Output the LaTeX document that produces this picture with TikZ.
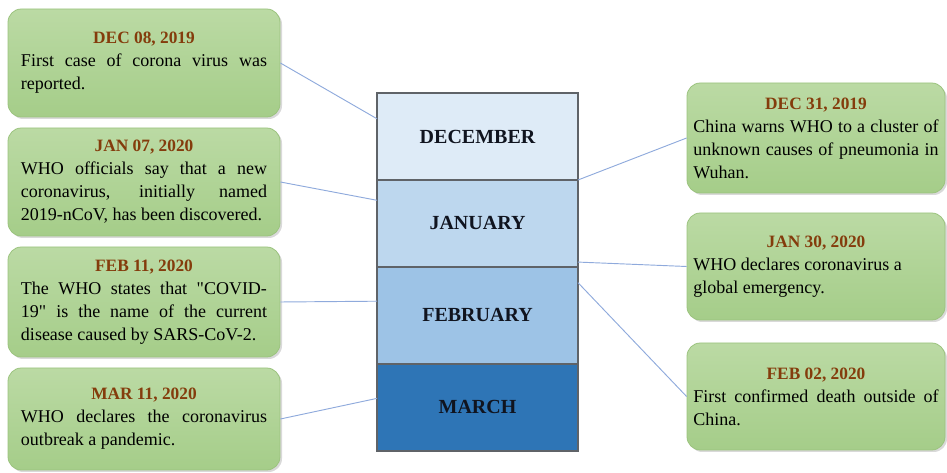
\documentclass[tikz,border=0pt]{standalone}
\usepackage{fontspec}
\setmainfont{Liberation Serif}[Ligatures=TeXOff]
\usetikzlibrary{positioning,shadows}
\definecolor{datecol}{HTML}{843C0C}
\definecolor{boxtop}{HTML}{BBDAA4}
\definecolor{boxbottom}{HTML}{A5CD89}
\definecolor{boxline}{HTML}{9BC37E}
\definecolor{decfill}{HTML}{DEEBF7}
\definecolor{janfill}{HTML}{BDD7EE}
\definecolor{febfill}{HTML}{9DC3E6}
\definecolor{marfill}{HTML}{2E75B6}
\definecolor{monthline}{HTML}{5F6368}
\definecolor{monthtext}{HTML}{10141F}
\definecolor{linkcol}{HTML}{8FAADC}
\hyphenpenalty=10000
\newcommand{\eventlabel}[2]{{\centering\color{datecol}\bfseries\fontsize{13}{17}\selectfont #1\par}#2}

\begin{document}
\begin{tikzpicture}[x = 0.75pt, y = -0.75pt,
  event/.style = {rectangle, rounded corners = 10pt, draw = boxline, line width = 0.6pt, top color = boxtop, bottom color = boxbottom, drop shadow = {opacity = 0.3, shadow xshift = 1.5pt, shadow yshift = -1.5pt}, text width = 184.5pt, align = justify, inner sep = 0pt, font = \fontsize{13.5}{17.25}\selectfont},
  leftevent/.style = {event, minimum width = 204pt},
  rightevent/.style = {event, minimum width = 193.5pt, text width = 184pt},
  month/.style = {rectangle, draw = monthline, line width = 1.3pt, minimum width = 150.75pt, minimum height = 65.25pt, inner sep = 0pt, outer sep = 0pt, text = monthtext, font = \fontsize{15}{18}\selectfont\bfseries},
  link/.style = {draw = linkcol, line width = 0.7pt}]
	\useasboundingbox (0, 0) rectangle (947, 473);

	\node[leftevent, minimum height = 81pt] (ev1) at (144, 63) {\eventlabel{DEC 08, 2019}{First case of corona virus was\linebreak reported.}};
	\node[leftevent, minimum height = 81pt] (ev2) at (144, 182) {\eventlabel{JAN 07, 2020}{WHO officials say that a new\linebreak coronavirus, initially named\linebreak 2019-nCoV, has been discovered.}};
	\node[leftevent, minimum height = 82.5pt] (ev3) at (144, 302) {\eventlabel{FEB 11, 2020}{The WHO states that "COVID-\linebreak 19" is the name of the current\linebreak disease caused by SARS-CoV-2.}};
	\node[leftevent, minimum height = 76.5pt] (ev4) at (144, 419) {\eventlabel{MAR 11, 2020}{WHO declares the coronavirus\linebreak outbreak a pandemic.}};

	\node[rightevent, minimum height = 82.5pt] (ev5) at (816, 138) {\eventlabel{DEC 31, 2019}{China warns WHO to a cluster of\linebreak unknown causes of pneumonia in\linebreak Wuhan.}};
	\node[rightevent, minimum height = 80.25pt] (ev6) at (816, 266.5) {\eventlabel{JAN 30, 2020}{WHO declares coronavirus a\newline global emergency.}};
	\node[rightevent, minimum height = 80.25pt] (ev7) at (816, 396.5) {\eventlabel{FEB 02, 2020}{First confirmed death outside of\linebreak China.}};

	\node[month, fill = decfill] (dec) at (477.5, 136.5) {DECEMBER};
	\node[month, fill = janfill, below = 0pt of dec] (jan) {JANUARY};
	\node[month, fill = febfill, below = 0pt of jan, minimum height = 72.5pt] (feb) {FEBRUARY};
	\node[month, fill = marfill, below = 0pt of feb] (mar) {MARCH};

	\foreach \from/\to in {ev1.east/dec.170, ev2.east/jan.167, ev3.east/feb.172, ev4.east/mar.175, dec.south east/ev5.west, jan.-21/ev6.west, feb.18/ev7.west}
		\draw[link] (\from) -- (\to);
\end{tikzpicture}
\end{document}
